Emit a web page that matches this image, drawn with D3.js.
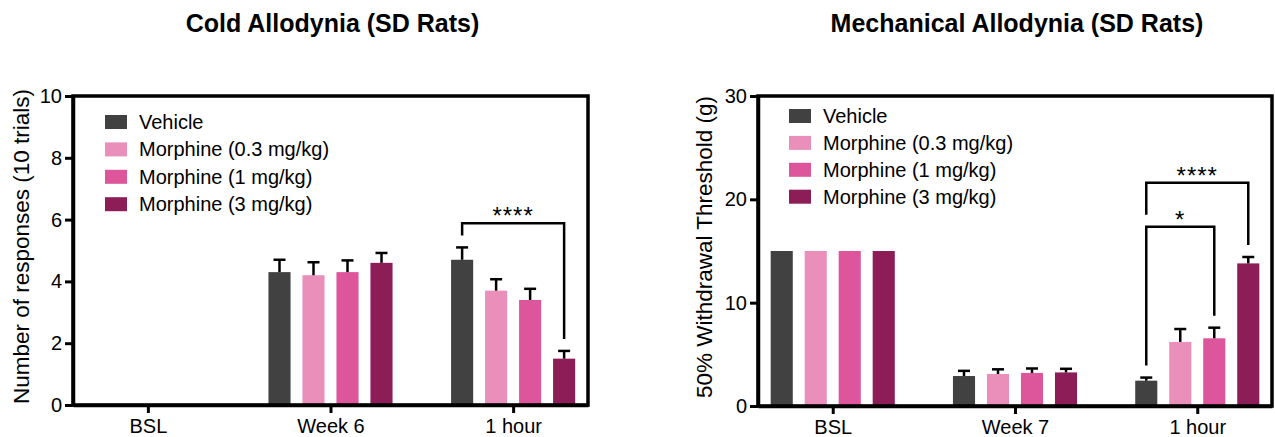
<!DOCTYPE html>
<html>
<head>
<meta charset="utf-8">
<script src="https://cdn.jsdelivr.net/npm/d3@7"></script>
<style>
  body { margin: 0; background: #fff; }
  svg text { font-family: "Liberation Sans", Arial, sans-serif; fill: #000; }
</style>
</head>
<body>
<div id="chart"></div>
<script>
// categories
var coldGroups = ["BSL", "Week 6", "1 hour"];
var mechGroups = ["BSL", "Week 7", "1 hour"];
var seriesNames = ["Vehicle", "Morphine (0.3 mg/kg)", "Morphine (1 mg/kg)", "Morphine (3 mg/kg)"];
var seriesColors = ["#414141", "#e98fba", "#dd559b", "#8d1d57"];

// cold allodynia, number of responses (mean, sem)
var coldVehicle = [0, 4.3, 4.7];
var coldVehicleErr = [0, 0.4, 0.4];
var coldM03 = [0, 4.2, 3.7];
var coldM03Err = [0, 0.42, 0.37];
var coldM1 = [0, 4.3, 3.4];
var coldM1Err = [0, 0.38, 0.36];
var coldM3 = [0, 4.6, 1.5];
var coldM3Err = [0, 0.32, 0.25];
var coldTicks = [0, 2, 4, 6, 8, 10];

// mechanical allodynia, 50% withdrawal threshold in g (mean, sem)
var mechVehicle = [15, 2.9, 2.45];
var mechVehicleErr = [0, 0.5, 0.3];
var mechM03 = [15, 3.1, 6.2];
var mechM03Err = [0, 0.45, 1.25];
var mechM1 = [15, 3.2, 6.55];
var mechM1Err = [0, 0.43, 1.03];
var mechM3 = [15, 3.25, 13.8];
var mechM3Err = [0, 0.35, 0.62];
var mechTicks = [0, 10, 20, 30];

// significance brackets: group, first series, second series, level, label
var coldSig = [["1 hour", 0, 3, 5.88, "****"]];
var mechSig = [["1 hour", 0, 3, 21.6, "****"], ["1 hour", 0, 2, 17.35, "*"]];

var W = 1275, H = 437;

var svg = d3.select("#chart").append("svg")
  .attr("width", W)
  .attr("height", H);

var drawPanel = function(opt) {
  var left = opt.left, right = opt.right, top = opt.top, bottom = opt.bottom;

  var xScale = d3.scalePoint()
    .domain(opt.groups)
    .range([left, right])
    .padding(0.41);

  var x1 = d3.scaleBand()
    .domain(d3.range(seriesNames.length))
    .range([-68, 68])
    .paddingInner(0.35)
    .paddingOuter(0.175);

  var yScale = d3.scaleLinear()
    .domain([0, opt.max])
    .range([bottom, top]);

  var g = svg.append("g");

  // title
  g.append("text")
    .attr("x", (left + right) / 2 + 2)
    .attr("y", 32)
    .attr("text-anchor", "middle")
    .style("font-size", "25px")
    .style("font-weight", "bold")
    .text(opt.title);

  // bars
  var rows = [];
  opt.values.forEach(function(vals, s) {
    vals.forEach(function(v, i) {
      rows.push({group: opt.groups[i], s: s, v: v, e: opt.errors[s][i]});
    });
  });

  g.selectAll("rect.bar")
    .data(rows.filter(function(d) { return d.v > 0; }))
    .enter()
    .append("rect")
    .attr("class", "bar")
    .attr("x", function(d) { return xScale(d.group) + x1(d.s); })
    .attr("y", function(d) { return yScale(d.v); })
    .attr("width", x1.bandwidth())
    .attr("height", function(d) { return yScale(0) - yScale(d.v); })
    .style("fill", function(d) { return seriesColors[d.s]; });

  // error bars (upper only)
  var errs = g.selectAll("g.err")
    .data(rows.filter(function(d) { return d.e > 0; }))
    .enter()
    .append("g")
    .attr("class", "err")
    .style("stroke", "#000")
    .style("stroke-width", 2.5);

  errs.append("line")
    .attr("x1", function(d) { return xScale(d.group) + x1(d.s) + x1.bandwidth() / 2; })
    .attr("x2", function(d) { return xScale(d.group) + x1(d.s) + x1.bandwidth() / 2; })
    .attr("y1", function(d) { return yScale(d.v); })
    .attr("y2", function(d) { return yScale(d.v + d.e); });

  errs.append("line")
    .attr("x1", function(d) { return xScale(d.group) + x1(d.s) + x1.bandwidth() / 2 - 6; })
    .attr("x2", function(d) { return xScale(d.group) + x1(d.s) + x1.bandwidth() / 2 + 6; })
    .attr("y1", function(d) { return yScale(d.v + d.e); })
    .attr("y2", function(d) { return yScale(d.v + d.e); });

  // frame
  g.append("rect")
    .attr("x", left)
    .attr("y", top)
    .attr("width", right - left)
    .attr("height", bottom - top)
    .style("fill", "none")
    .style("stroke", "#000")
    .style("stroke-width", 3.5);

  // axes
  var yAxis = d3.axisLeft(yScale)
    .tickValues(opt.ticks)
    .tickFormat(d3.format("d"))
    .tickSize(8)
    .tickSizeOuter(0)
    .tickPadding(3);

  var xAxis = d3.axisBottom(xScale)
    .tickSize(8)
    .tickSizeOuter(0)
    .tickPadding(6);

  var yAxisGroup = g.append("g")
    .attr("transform", "translate(" + left + ",0)")
    .call(yAxis);

  var xAxisGroup = g.append("g")
    .attr("transform", "translate(0," + bottom + ")")
    .call(xAxis);

  [yAxisGroup, xAxisGroup].forEach(function(ax) {
    ax.select(".domain").style("stroke-width", 3.5).style("stroke", "#000");
    ax.selectAll(".tick line").style("stroke-width", 3).style("stroke", "#000");
    ax.selectAll(".tick text")
      .style("font-size", "20px")
      .style("font-family", "'Liberation Sans', Arial, sans-serif")
      .style("fill", "#000");
  });

  // y axis title
  g.append("text")
    .attr("transform", "translate(" + opt.titleX + "," + ((top + bottom) / 2 - 4) + ") rotate(-90)")
    .attr("text-anchor", "middle")
    .style("font-size", "22.5px")
    .text(opt.yTitle);

  // legend
  var legend = g.selectAll("g.legend")
    .data(seriesNames)
    .enter()
    .append("g")
    .attr("class", "legend")
    .attr("transform", function(d, i) {
      return "translate(" + opt.legendX + "," + (opt.legendY + i * opt.legendStep) + ")";
    });

  legend.append("rect")
    .attr("x", 0)
    .attr("y", -7)
    .attr("width", 22)
    .attr("height", 14)
    .style("fill", function(d, i) { return seriesColors[i]; });

  legend.append("text")
    .attr("x", 34)
    .attr("y", 7)
    .style("font-size", "20px")
    .text(function(d) { return d; });

  // significance brackets
  var barTop = function(group, s) {
    var i = opt.groups.indexOf(group);
    return yScale(opt.values[s][i] + opt.errors[s][i]);
  };
  var barX = function(group, s) {
    return xScale(group) + x1(s) + x1.bandwidth() / 2;
  };

  opt.sig.forEach(function(b) {
    var yb = yScale(b[3]);
    var legEnd = function(s) {
      var y = barTop(b[0], s) - 12;
      opt.sig.forEach(function(o) {
        if (o !== b && o[3] < b[3] && (o[1] === s || o[2] === s)) {
          y = Math.min(y, yScale(o[3]) - 12);
        }
      });
      return y;
    };
    var xa = barX(b[0], b[1]), xb = barX(b[0], b[2]);
    g.append("path")
      .attr("d", "M" + xa + "," + legEnd(b[1]) + "V" + yb + "H" + xb + "V" + legEnd(b[2]))
      .style("fill", "none")
      .style("stroke", "#000")
      .style("stroke-width", 2.5);
    g.append("text")
      .attr("x", (xa + xb) / 2)
      .attr("y", yb + 1)
      .attr("text-anchor", "middle")
      .style("font-size", "24px")
      .style("letter-spacing", "1px")
      .text(b[4]);
  });
};

drawPanel({
  title: "Cold Allodynia (SD Rats)",
  yTitle: "Number of responses (10 trials)",
  groups: coldGroups,
  values: [coldVehicle, coldM03, coldM1, coldM3],
  errors: [coldVehicleErr, coldM03Err, coldM1Err, coldM3Err],
  ticks: coldTicks,
  max: 10,
  sig: coldSig,
  left: 73, right: 588, top: 96, bottom: 405,
  titleX: 29,
  legendX: 105, legendY: 122, legendStep: 27.4
});

drawPanel({
  title: "Mechanical Allodynia (SD Rats)",
  yTitle: "50% Withdrawal Threshold (g)",
  groups: mechGroups,
  values: [mechVehicle, mechM03, mechM1, mechM3],
  errors: [mechVehicleErr, mechM03Err, mechM1Err, mechM3Err],
  ticks: mechTicks,
  max: 30,
  sig: mechSig,
  left: 758, right: 1272, top: 96, bottom: 406,
  titleX: 712,
  legendX: 789, legendY: 116, legendStep: 26.9
});
</script>
</body>
</html>
